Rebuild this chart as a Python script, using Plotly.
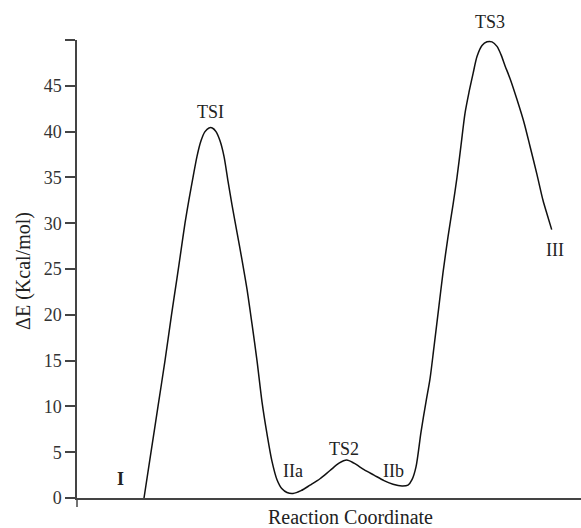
import plotly.graph_objects as go

# Reaction coordinate (arbitrary units) and energy (kcal/mol)
coord = [67, 74, 81, 88, 94.5, 100, 104, 108, 112, 116, 120, 124, 128, 132, 135.3,
         139, 143, 147, 151, 155, 160, 165, 170, 175, 180, 185, 190, 195, 200, 205,
         210, 216, 224, 233, 243, 253, 262, 269.7, 277, 287, 297, 307, 316, 325,
         331, 335, 339, 344, 349, 353, 357, 362, 366, 371, 376, 380, 384, 388, 392,
         396, 400, 405, 410, 415, 420, 424, 428, 433, 440, 447, 453, 460, 466, 470,
         474.7]
energy = [0, 5, 10, 15, 20, 24, 27, 30, 32.6, 35, 37.3, 39.0, 40.0, 40.4, 40.4,
          40.0, 39.0, 37.3, 34.6, 32.0, 29.0, 26.0, 22.8, 19.0, 15.0, 10.5, 7.0, 4.0,
          2.0, 1.0, 0.6, 0.5, 0.8, 1.4, 2.1, 3.0, 3.8, 4.15, 3.8, 3.1, 2.5, 1.9, 1.5,
          1.3, 1.4, 2.0, 3.4, 7.2, 10.5, 13.0, 16.5, 21.0, 24.6, 28.5, 32.0, 35.0,
          38.5, 42.0, 44.3, 46.3, 48.2, 49.4, 49.8, 49.8, 49.3, 48.4, 47.2, 45.8,
          43.5, 41.0, 38.4, 35.3, 32.5, 31.0, 29.3]

state_labels = ["I", "TSI", "IIa", "TS2", "IIb", "TS3", "III"]
label_x = [43.5, 133, 215.7, 267.3, 316.3, 413, 478]
label_y = [2.1, 42.1, 3.0, 5.4, 3.0, 52.0, 27.1]

y_ticks = [0, 5, 10, 15, 20, 25, 30, 35, 40, 45, 50]
y_ticktext = ["0", "5", "10", "15", "20", "25", "30", "35", "40", "45", ""]

Y_MAX = 50
SERIF = "Liberation Serif, Times New Roman, serif"
PX_PER_UNIT = 458 / Y_MAX

fig = go.Figure()
fig.add_trace(go.Scatter(
    x=coord, y=energy, mode="lines",
    line=dict(color="#111111", width=1.5, shape="spline", smoothing=0.8),
    hoverinfo="skip", showlegend=False,
))

for t, xx, yy in zip(state_labels, label_x, label_y):
    shift = 0
    if yy > Y_MAX:
        shift = (yy - Y_MAX) * PX_PER_UNIT
        yy = Y_MAX
    fig.add_annotation(
        x=xx, y=yy, xref="x", yref="y", yshift=shift,
        text=("<b>" + t + "</b>") if t == "I" else t,
        showarrow=False, font=dict(family=SERIF, size=18, color="#222222"),
    )

# axis titles
fig.add_annotation(x=0.542, y=-0.0415, xref="paper", yref="paper",
                   text="Reaction Coordinate", showarrow=False,
                   font=dict(family=SERIF, size=20, color="#222222"),
                   xanchor="center", yanchor="middle")
fig.add_annotation(x=-0.105, y=0.496, xref="paper", yref="paper",
                   text="ΔE (Kcal/mol)", showarrow=False, textangle=-90,
                   font=dict(family=SERIF, size=20, color="#222222"),
                   xanchor="center", yanchor="middle")

# y axis line extends slightly below the x axis
fig.add_shape(type="line", xref="paper", yref="paper", x0=0, x1=0,
              y0=-9 / 458, y1=0, line=dict(color="#444444", width=1.5))

fig.update_xaxes(range=[0, 504], showline=True, linecolor="#444444", linewidth=1.5,
                 showticklabels=False, ticks="", showgrid=False, zeroline=False)
fig.update_yaxes(range=[0, Y_MAX], tickvals=y_ticks, ticktext=y_ticktext,
                 showline=True, linecolor="#444444", linewidth=1.5,
                 ticks="outside", ticklen=10, tickwidth=1.5, tickcolor="#444444",
                 tickfont=dict(family=SERIF, size=18, color="#333333"),
                 showgrid=False, zeroline=False)

fig.update_layout(
    width=581, height=528,
    margin=dict(l=77, r=0, t=40, b=30),
    plot_bgcolor="white", paper_bgcolor="white",
    showlegend=False,
)

fig.write_html("out.html")
